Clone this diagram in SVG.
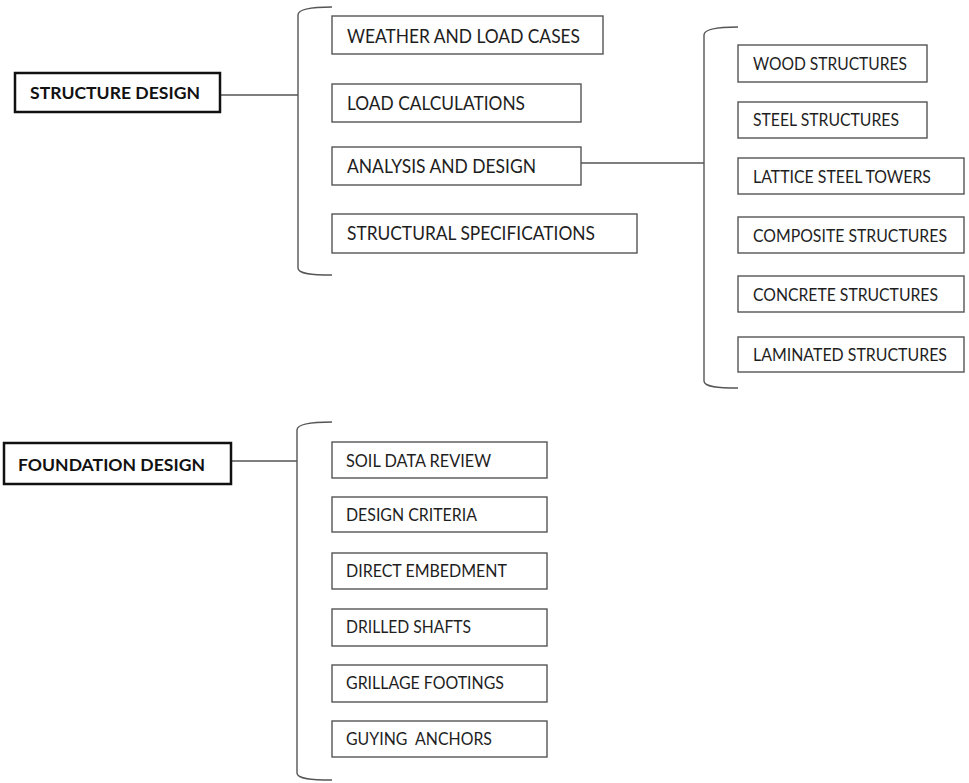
<svg xmlns="http://www.w3.org/2000/svg" width="969" height="783" viewBox="0 0 969 783">
  <style>
    .main rect { fill: #fff; stroke: #111; stroke-width: 2.5; }
    .main text { font-family: Lato, "Open Sans", sans-serif; font-weight: bold; font-size: 17px; fill: #111; }
    .item rect { fill: #fff; stroke: #555; stroke-width: 1.4; }
    .item text { font-family: Lato, "Open Sans", sans-serif; font-size: 19.5px; fill: #1e1e1e; }
    .small text { font-size: 17px; }
    .conn path, .conn line { fill: none; stroke: #555; stroke-width: 1.4; }
  </style>
  <rect width="969" height="783" fill="#fff"/>

  <!-- connectors and grouping brackets -->
  <g id="connectors" class="conn">
    <line x1="220" y1="95" x2="298" y2="95"/>
    <path d="M332,7 C312,7 298,9 298,15 L298,268 C298,274 312,275 332,275"/>
    <line x1="581" y1="163" x2="704" y2="163"/>
    <path d="M738,27 C718,27 704,29 704,35 L704,381 C704,387 718,388 738,388"/>
    <line x1="231" y1="461" x2="297" y2="461"/>
    <path d="M332,422 C312,422 297,424 297,430 L297,773 C297,779 312,780 332,780"/>
  </g>

  <!-- structure design -->
  <g id="structure-design" class="main">
    <rect x="15" y="73" width="205" height="39"/>
    <text x="30" y="98.5" textLength="170" lengthAdjust="spacingAndGlyphs">STRUCTURE DESIGN</text>
  </g>
  <g id="weather-load-cases" class="item">
    <rect x="332" y="16" width="271" height="38"/>
    <text x="347" y="43" textLength="233" lengthAdjust="spacingAndGlyphs">WEATHER AND LOAD CASES</text>
  </g>
  <g id="load-calculations" class="item">
    <rect x="332" y="84" width="249" height="38"/>
    <text x="347" y="110" textLength="178" lengthAdjust="spacingAndGlyphs">LOAD CALCULATIONS</text>
  </g>
  <g id="analysis-design" class="item">
    <rect x="332" y="147" width="249" height="38"/>
    <text x="347" y="173" textLength="189" lengthAdjust="spacingAndGlyphs">ANALYSIS AND DESIGN</text>
  </g>
  <g id="structural-specifications" class="item">
    <rect x="332" y="214" width="305" height="39"/>
    <text x="347" y="240" textLength="248" lengthAdjust="spacingAndGlyphs">STRUCTURAL SPECIFICATIONS</text>
  </g>

  <!-- structure types -->
  <g id="wood-structures" class="item small">
    <rect x="738" y="45" width="189" height="37"/>
    <text x="753" y="69.5" textLength="154" lengthAdjust="spacingAndGlyphs">WOOD STRUCTURES</text>
  </g>
  <g id="steel-structures" class="item small">
    <rect x="738" y="102" width="189" height="36"/>
    <text x="753" y="126" textLength="146" lengthAdjust="spacingAndGlyphs">STEEL STRUCTURES</text>
  </g>
  <g id="lattice-steel-towers" class="item small">
    <rect x="738" y="158" width="226" height="36"/>
    <text x="753" y="183" textLength="178" lengthAdjust="spacingAndGlyphs">LATTICE STEEL TOWERS</text>
  </g>
  <g id="composite-structures" class="item small">
    <rect x="738" y="217" width="226" height="36"/>
    <text x="753" y="242" textLength="194" lengthAdjust="spacingAndGlyphs">COMPOSITE STRUCTURES</text>
  </g>
  <g id="concrete-structures" class="item small">
    <rect x="738" y="276" width="226" height="36"/>
    <text x="753" y="301" textLength="185" lengthAdjust="spacingAndGlyphs">CONCRETE STRUCTURES</text>
  </g>
  <g id="laminated-structures" class="item small">
    <rect x="738" y="337" width="226" height="35"/>
    <text x="753" y="361" textLength="194" lengthAdjust="spacingAndGlyphs">LAMINATED STRUCTURES</text>
  </g>

  <!-- foundation design -->
  <g id="foundation-design" class="main">
    <rect x="4" y="443" width="227" height="41"/>
    <text x="18" y="471" textLength="187" lengthAdjust="spacingAndGlyphs">FOUNDATION DESIGN</text>
  </g>
  <g id="soil-data-review" class="item small">
    <rect x="332" y="442" width="215" height="36"/>
    <text x="346" y="467" textLength="145" lengthAdjust="spacingAndGlyphs">SOIL DATA REVIEW</text>
  </g>
  <g id="design-criteria" class="item small">
    <rect x="332" y="497" width="215" height="35"/>
    <text x="346" y="521" textLength="131" lengthAdjust="spacingAndGlyphs">DESIGN CRITERIA</text>
  </g>
  <g id="direct-embedment" class="item small">
    <rect x="332" y="553" width="215" height="36"/>
    <text x="346" y="577" textLength="161" lengthAdjust="spacingAndGlyphs">DIRECT EMBEDMENT</text>
  </g>
  <g id="drilled-shafts" class="item small">
    <rect x="332" y="609" width="215" height="37"/>
    <text x="346" y="633" textLength="125" lengthAdjust="spacingAndGlyphs">DRILLED SHAFTS</text>
  </g>
  <g id="grillage-footings" class="item small">
    <rect x="332" y="665" width="215" height="37"/>
    <text x="346" y="689" textLength="158" lengthAdjust="spacingAndGlyphs">GRILLAGE FOOTINGS</text>
  </g>
  <g id="guying-anchors" class="item small">
    <rect x="332" y="721" width="215" height="36"/>
    <text x="346" y="745" textLength="146" lengthAdjust="spacingAndGlyphs" xml:space="preserve">GUYING  ANCHORS</text>
  </g>
</svg>
